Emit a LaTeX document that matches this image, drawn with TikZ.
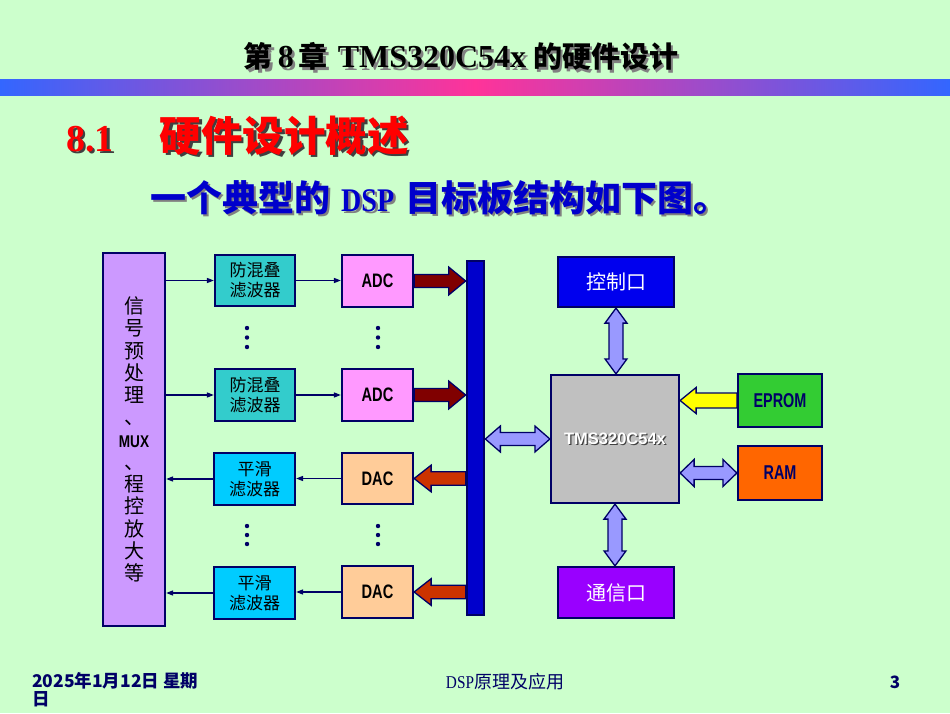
\documentclass[tikz,border=0pt]{standalone}
\usepackage{fontspec}
\setmainfont{Noto Sans CJK SC}
\newfontfamily\serifb{Liberation Serif}
\newfontfamily\serifn{Liberation Serif}[FakeStretch=0.85]
\newfontfamily\narrow{Liberation Sans}[FakeStretch=0.75]
\newfontfamily\narrowM{Liberation Sans}[FakeStretch=0.8]
\newfontfamily\narrowE{Liberation Sans}[FakeStretch=0.72]
\newfontfamily\lsans{Liberation Sans}
\usetikzlibrary{calc,arrows.meta}
\definecolor{bg}{HTML}{CCFFCC}
\definecolor{navy}{HTML}{000066}
\definecolor{barblue}{HTML}{3366FF}
\definecolor{barpink}{HTML}{FF3399}
\definecolor{filtc}{HTML}{33CCCC}
\definecolor{smoothc}{HTML}{00CCFF}
\definecolor{adcc}{HTML}{FF99FF}
\definecolor{dacc}{HTML}{FFCC99}
\definecolor{leftc}{HTML}{CC99FF}
\definecolor{busc}{HTML}{0000CC}
\definecolor{ctrlc}{HTML}{0000EE}
\definecolor{tmsc}{HTML}{C0C0C0}
\definecolor{epromc}{HTML}{33CC33}
\definecolor{ramc}{HTML}{FF6600}
\definecolor{commc}{HTML}{9900FF}
\definecolor{lavc}{HTML}{9999FF}
\definecolor{adcarc}{HTML}{800000}
\definecolor{dacarc}{HTML}{CC3300}
\definecolor{yelc}{HTML}{FFFF00}
\definecolor{redh}{HTML}{FF0000}
\definecolor{blueh}{HTML}{0000CC}
\definecolor{shadg}{HTML}{808080}
\definecolor{shadd}{HTML}{404040}
\newcommand\shad[4]{\makebox[0pt][l]{\kern#2\raisebox{-#3}{\textcolor{#1}{#4}}}#4}
% block arrows: #1 style, #2 tail/first, #3 tip/second, #4 head length, #5 half head, #6 half shaft
\newcommand\arrR[6]{\draw[#1] ($(#2)+(0,-#6)$) -- ($(#3)+(-#4,-#6)$) -- ($(#3)+(-#4,-#5)$) -- (#3) -- ($(#3)+(-#4,#5)$) -- ($(#3)+(-#4,#6)$) -- ($(#2)+(0,#6)$) -- cycle;}
\newcommand\arrL[6]{\draw[#1] ($(#2)+(0,-#6)$) -- ($(#3)+(#4,-#6)$) -- ($(#3)+(#4,-#5)$) -- (#3) -- ($(#3)+(#4,#5)$) -- ($(#3)+(#4,#6)$) -- ($(#2)+(0,#6)$) -- cycle;}
\newcommand\arrH[6]{\draw[#1] (#2) -- ($(#2)+(#4,-#5)$) -- ($(#2)+(#4,-#6)$) -- ($(#3)+(-#4,-#6)$) -- ($(#3)+(-#4,-#5)$) -- (#3) -- ($(#3)+(-#4,#5)$) -- ($(#3)+(-#4,#6)$) -- ($(#2)+(#4,#6)$) -- ($(#2)+(#4,#5)$) -- cycle;}
\newcommand\arrV[6]{\draw[#1] (#2) -- ($(#2)+(#5,#4)$) -- ($(#2)+(#6,#4)$) -- ($(#3)+(#6,-#4)$) -- ($(#3)+(#5,-#4)$) -- (#3) -- ($(#3)+(-#5,-#4)$) -- ($(#3)+(-#6,-#4)$) -- ($(#2)+(-#6,#4)$) -- ($(#2)+(-#5,#4)$) -- cycle;}
\begin{document}
\begin{tikzpicture}[x=1pt,y=-1pt,
  box/.style={draw=navy, line width=2.2pt, inner sep=0pt, align=center},
  cjkbox/.style={box, font=\fontsize{17}{20}\selectfont, text=black},
  latbox/.style={box, font=\narrow\bfseries\fontsize{19.5}{22}\selectfont, text=black},
  thinarr/.style={draw=navy, line width=1.3pt, -{Triangle[length=7pt,width=5pt]}},
  blk/.style={draw=navy, line width=1.3pt, line join=miter},
  dotc/.style={fill=navy}]
\useasboundingbox (0,0) rectangle (950,713);
\fill[bg] (0,0) rectangle (950,713);
\shade[left color=barblue, right color=barblue, middle color=barpink] (0,79) rectangle (950,95);
% headings
\node[font=\bfseries\fontsize{29}{34}\selectfont, text=black, inner sep=0pt] (title) at (461,58)
  {\shad{shadg}{2.5pt}{2.5pt}{第\hspace{5pt}{\serifb\fontsize{32}{36}\selectfont 8}\hspace{5pt}章\hspace{10pt}{\serifb\fontsize{32}{36}\selectfont TMS320C54x}\hspace{7pt}的硬件设计}};
\node[font=\bfseries\fontsize{41.5}{44}\selectfont, text=redh, inner sep=0pt, anchor=west] (sec) at (66,137)
  {\shad{shadd}{2.5pt}{2.5pt}{{\serifb\fontsize{38}{40}\selectfont 8.1}\hspace{46pt}硬件设计概述}};
\node[font=\bfseries\fontsize{36}{40}\selectfont, text=blueh, inner sep=0pt, anchor=west] (sub) at (150,199)
  {\shad{shadg}{2.5pt}{2.5pt}{一个典型的\hspace{11pt}{\serifn\fontsize{33}{36}\selectfont DSP}\hspace{11pt}目标板结构如下图。}};
% left block
\node[box, fill=leftc, minimum width=62, minimum height=373, font=\fontsize{20}{22.25}\selectfont, text=black] (left) at (134,439.5)
  {信\\号\\预\\处\\理\\、\\{\narrowM\bfseries\fontsize{17}{20}\selectfont MUX}\\、\\程\\控\\放\\大\\等};
% filters
\node[cjkbox, fill=filtc, minimum width=80, minimum height=51] (f1) at (255,280.5) {防混叠\\滤波器};
\node[cjkbox, fill=filtc, minimum width=80, minimum height=52] (f2) at (255,395) {防混叠\\滤波器};
\node[cjkbox, fill=smoothc, minimum width=81, minimum height=52] (s1) at (254.5,479) {平滑\\滤波器};
\node[cjkbox, fill=smoothc, minimum width=81, minimum height=52] (s2) at (254.5,593) {平滑\\滤波器};
% converters
\node[latbox, fill=adcc, minimum width=71, minimum height=52] (adc1) at (377.5,281) {ADC};
\node[latbox, fill=adcc, minimum width=71, minimum height=52] (adc2) at (377.5,395) {ADC};
\node[latbox, fill=dacc, minimum width=71, minimum height=51] (dac1) at (377.5,478.5) {DAC};
\node[latbox, fill=dacc, minimum width=71, minimum height=52] (dac2) at (377.5,592) {DAC};
% bus
\node[box, fill=busc, minimum width=17.5, minimum height=354] (bus) at (475.5,438) {};
% right side
\node[box, fill=ctrlc, minimum width=116, minimum height=50, text=white, font=\fontsize{20}{22}\selectfont] (ctrl) at (616,282) {控制口};
\node[box, fill=tmsc, minimum width=128, minimum height=128, text=white, font=\lsans\bfseries\fontsize{16.5}{18}\selectfont] (tms) at (615,439)
  {\shad{shadd}{1.2pt}{1.2pt}{TMS320C54x}};
\node[box, fill=epromc, minimum width=84, minimum height=53, text=navy, font=\narrowE\bfseries\fontsize{20}{22}\selectfont] (eprom) at (780,400.5) {EPROM};
\node[box, fill=ramc, minimum width=84, minimum height=54, text=navy, font=\narrowE\bfseries\fontsize{20}{22}\selectfont] (ram) at (780,473) {RAM};
\node[box, fill=commc, minimum width=116, minimum height=51, text=white, font=\fontsize{20}{22}\selectfont] (comm) at (616,592.5) {通信口};
% dots
\foreach \yy in {328,337.5,347,526,535,544}{
  \fill[dotc] (247,\yy) circle (2.2);
  \fill[dotc] (378,\yy) circle (2.2);
}
% thin connectors
\draw[thinarr] (left.east |- f1.west) -- (f1.west);
\draw[thinarr] (left.east |- f2.west) -- (f2.west);
\draw[thinarr] (f1.east) -- (f1.east -| adc1.west);
\draw[thinarr] (f2.east) -- (f2.east -| adc2.west);
\draw[thinarr] (dac1.west) -- (dac1.west -| s1.east);
\draw[thinarr] (dac2.west) -- (dac2.west -| s2.east);
\draw[thinarr] (s1.west) -- (s1.west -| left.east);
\draw[thinarr] (s2.west) -- (s2.west -| left.east);
% coordinates for block arrows
\coordinate (b1) at (bus.west |- adc1.east);
\coordinate (b2) at (bus.west |- adc2.east);
\coordinate (b3) at (bus.west |- dac1.east);
\coordinate (b4) at (bus.west |- dac2.east);
\coordinate (bt) at (bus.east |- tms.west);
\coordinate (te) at (tms.east |- eprom.west);
\coordinate (tr) at (tms.east |- ram.west);
\coordinate (ct) at (ctrl.south |- tms.north);
\coordinate (tc) at (tms.south |- comm.north);
\arrR{blk, fill=adcarc}{adc1.east}{b1}{17}{14}{6.5}
\arrR{blk, fill=adcarc}{adc2.east}{b2}{17}{14}{6.5}
\arrL{blk, fill=dacarc}{b3}{dac1.east}{17}{13.3}{6.7}
\arrL{blk, fill=dacarc}{b4}{dac2.east}{17}{13.3}{6.7}
\arrH{blk, fill=lavc}{bt}{tms.west}{15}{13}{6.5}
\arrL{blk, fill=yelc}{eprom.west}{te}{16}{13}{7.5}
\arrH{blk, fill=lavc}{tr}{ram.west}{14}{13.5}{6.5}
\arrV{blk, fill=lavc}{ctrl.south}{ct}{15}{11}{7}
\arrV{blk, fill=lavc}{tms.south}{tc}{15}{11}{7}
% footer
\node[anchor=north west, align=left, inner sep=0pt, text=navy, font=\bfseries\fontsize{17.5}{18.5}\selectfont] (date) at (32,672) {2025年1月12日 星期\\日};
\node[inner sep=0pt, text=navy, font=\fontsize{18}{20}\selectfont] (course) at (505,682) {{\serifn DSP}原理及应用};
\node[inner sep=0pt, text=navy, font=\bfseries\fontsize{17}{20}\selectfont] (page) at (895,682) {3};
\end{tikzpicture}
\end{document}
